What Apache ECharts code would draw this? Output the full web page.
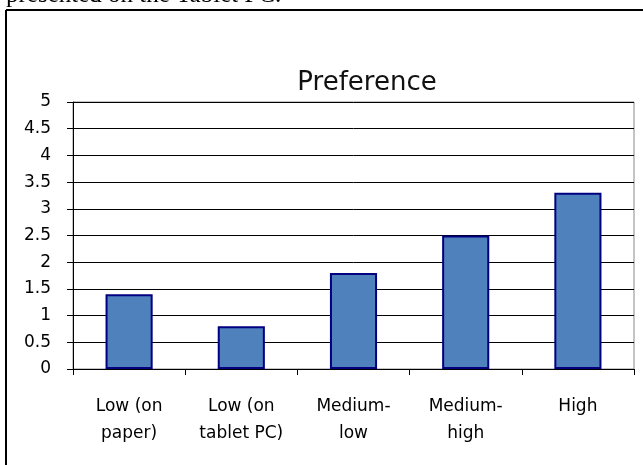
<!DOCTYPE html>
<html>
<head>
<meta charset="utf-8">
<script src="https://cdn.jsdelivr.net/npm/echarts@6/dist/echarts.min.js"></script>
<style>html,body{margin:0;padding:0;background:#fff;}#c{width:643px;height:465px;}</style>
</head>
<body>
<div id="c"></div>
<script>
var categories = ['Low (on\npaper)', 'Low (on\ntablet PC)', 'Medium-\nlow', 'Medium-\nhigh', 'High'];
var preference = [1.4, 0.8, 1.8, 2.5, 3.3];
var yTicks = { min: 0, max: 5, interval: 0.5 };
var chartTitle = 'Preference';
var captionText = 'presented on the Tablet PC.';

var chart = echarts.init(document.getElementById('c'), null, { renderer: 'canvas' });
chart.setOption({
  animation: false,
  backgroundColor: '#ffffff',
  grid: { left: 73, top: 102, right: 9, bottom: 96, show: true, borderColor: '#8a8a8a', borderWidth: 1, backgroundColor: 'transparent' },
  xAxis: {
    type: 'category',
    data: categories,
    boundaryGap: true,
    axisLine: { lineStyle: { color: '#000', width: 1 } },
    axisTick: { show: true, length: 6, lineStyle: { color: '#000' } },
    axisLabel: { color: '#000', fontFamily: 'DejaVu Sans', fontSize: 17, lineHeight: 27, margin: 24, interval: 0 }
  },
  yAxis: {
    type: 'value',
    min: yTicks.min, max: yTicks.max, interval: yTicks.interval,
    axisLine: { show: true, lineStyle: { color: '#000', width: 1 } },
    axisTick: { show: true, length: 6, lineStyle: { color: '#000' } },
    splitLine: { show: true, lineStyle: { color: '#000', width: 1 } },
    axisLabel: { color: '#000', fontFamily: 'DejaVu Sans', fontSize: 17, margin: 22 }
  },
  series: [{
    type: 'bar',
    data: preference,
    barWidth: '42%',
    itemStyle: { color: '#4F81BD', borderColor: '#000080', borderWidth: 2 }
  }],
  graphic: [
    { type: 'line', shape: { x1: 6, y1: 10, x2: 643, y2: 10 }, style: { stroke: '#000', lineWidth: 2 } },
    { type: 'line', shape: { x1: 6, y1: 10, x2: 6, y2: 465 }, style: { stroke: '#000', lineWidth: 2 } },
    { type: 'text', x: 6, y: 8, style: { text: captionText, font: '25px "Liberation Serif"', fill: '#000', textAlign: 'left', textVerticalAlign: 'bottom' } },
    { type: 'text', x: 367, y: 83, style: { text: chartTitle, font: '26px "DejaVu Sans"', fill: '#111', textAlign: 'center', textVerticalAlign: 'middle' } }
  ]
});
</script>
</body>
</html>
